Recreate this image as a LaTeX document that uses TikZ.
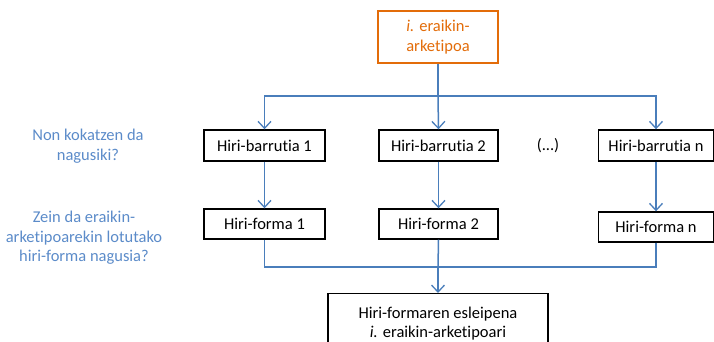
\documentclass[tikz,border=0pt]{standalone}
\usepackage{fontspec}
\setmainfont[Ligatures=NoCommon]{Carlito}
\usetikzlibrary{arrows.meta}
\definecolor{qblue}{HTML}{5B8BC9}
\definecolor{lblue}{HTML}{4A7EBB}
\definecolor{orng}{HTML}{E36C09}
\tikzset{
  x=1pt, y=-1pt,
  box/.style={draw=black, line width=1.4pt, fill=white, inner sep=0pt, align=center, font=\fontsize{16.5}{19.5}\selectfont},
  obox/.style={box, draw=orng, text=orng},
  qtext/.style={text=qblue, align=center, font=\fontsize{16.5}{19.5}\selectfont},
  conn/.style={draw=lblue, line width=1.5pt},
  arr/.style={conn, -{Straight Barb[length=7pt,width=13pt,line width=1.3pt]}},
}
\begin{document}
\begin{tikzpicture}
\useasboundingbox (0,0) rectangle (714,342);
\clip (0,0) rectangle (714,342);
\node[obox, minimum width=120pt, minimum height=52pt] (top) at (438,37) {\textit{i.} eraikin-\\arketipoa};
\node[box, minimum width=121pt, minimum height=31pt] (b1) at (264.5,145.5) {Hiri-barrutia 1};
\node[box, minimum width=119pt, minimum height=31pt] (b2) at (438.5,145.5) {Hiri-barrutia 2};
\node[box, minimum width=115pt, minimum height=31pt] (bn) at (656,145.5) {Hiri-barrutia n};
\node[font=\fontsize{16.5}{19.5}\selectfont] (dots) at (548,146) {(...)};
\node[box, minimum width=121pt, minimum height=30pt] (f1) at (264.5,224) {Hiri-forma 1};
\node[box, minimum width=119pt, minimum height=30pt] (f2) at (438.5,224) {Hiri-forma 2};
\node[box, minimum width=115pt, minimum height=30pt] (fn) at (656,227) {Hiri-forma n};
\node[box, minimum width=220pt, minimum height=60pt, anchor=north] (bot) at (438,293) {Hiri-formaren esleipena\\\textit{i.} eraikin-arketipoari};
\node[qtext] (q1) at (88,146) {Non kokatzen da\\nagusiki?};
\node[qtext] (q2) at (84,238) {Zein da eraikin-\\arketipoarekin lotutako\\hiri-forma nagusia?};
\draw[conn] (top.south) -- (438,96) coordinate (hj);
\draw[arr] (hj) -- (b2.north);
\draw[arr] (hj) -| (b1.north);
\draw[arr] (hj) -| (bn.north);
\draw[arr] (b1.south) -- (f1.north);
\draw[arr] (b2.south) -- (f2.north);
\draw[arr] (bn.south) -- (fn.north);
\coordinate (bj) at (438,267);
\draw[conn] (f1.south) |- (bj);
\draw[conn] (f2.south) -- (bj);
\draw[conn] (fn.south) |- (bj);
\draw[arr] (bj) -- (bot.north);
\end{tikzpicture}
\end{document}
